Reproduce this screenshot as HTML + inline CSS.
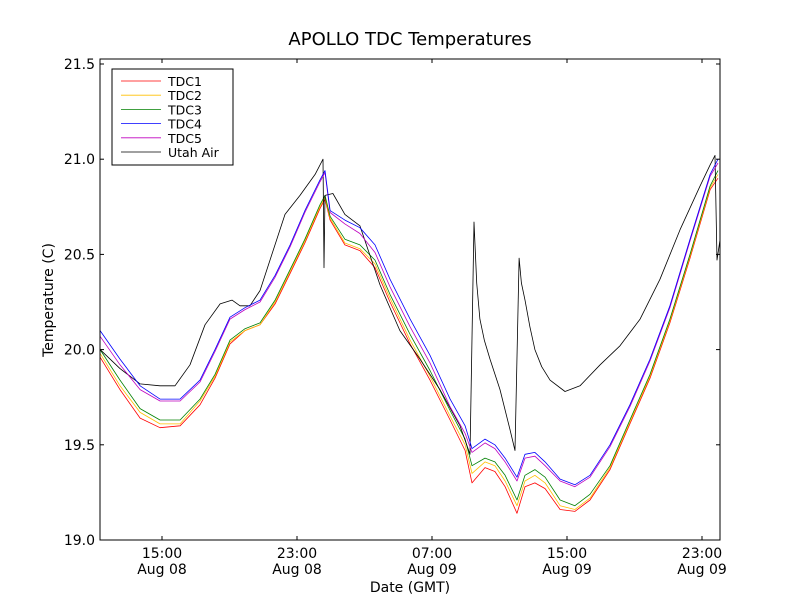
<!DOCTYPE html>
<html><head><meta charset="utf-8"><style>
body{margin:0;background:#fff;}
svg{font-family:"DejaVu Sans","Liberation Sans",sans-serif;}
</style></head><body>
<svg id="chart" width="800" height="600" xmlns="http://www.w3.org/2000/svg">
<rect width="800" height="600" fill="#fff"/>
<text x="410" y="45" font-size="18" text-anchor="middle">APOLLO TDC Temperatures</text>
<text x="410" y="592" font-size="14" text-anchor="middle">Date (GMT)</text>
<text transform="translate(53,300) rotate(-90)" font-size="14" text-anchor="middle">Temperature (C)</text>
<g id="plot"></g>
</svg>
<script>
const times=[11.33,12.51,13.70,14.88,16.07,17.25,18.14,19.03,19.92,20.81,21.70,22.59,23.47,24.36,24.66,24.96,25.84,26.73,27.62,28.51,29.70,30.88,32.07,32.96,33.37,34.14,34.73,35.33,36.04,36.51,37.10,37.70,38.59,39.47,40.36,41.55,42.73,43.92,45.10,46.29,47.48,47.95];
const tdc3=[20.00,19.84,19.69,19.63,19.63,19.74,19.87,20.05,20.11,20.14,20.26,20.42,20.58,20.76,20.81,20.70,20.58,20.55,20.47,20.29,20.08,19.89,19.68,19.53,19.39,19.43,19.41,19.34,19.21,19.34,19.37,19.33,19.21,19.18,19.24,19.39,19.63,19.87,20.16,20.50,20.86,20.94];
const tdc1=[19.96,19.79,19.64,19.59,19.60,19.71,19.85,20.03,20.10,20.13,20.24,20.40,20.56,20.74,20.79,20.68,20.55,20.52,20.43,20.25,20.03,19.84,19.63,19.47,19.30,19.38,19.36,19.28,19.14,19.28,19.30,19.27,19.16,19.15,19.21,19.37,19.61,19.85,20.14,20.48,20.84,20.90];
const tdc2=[19.98,19.81,19.67,19.61,19.61,19.73,19.86,20.04,20.10,20.13,20.25,20.41,20.57,20.75,20.80,20.69,20.56,20.53,20.45,20.27,20.05,19.86,19.65,19.50,19.35,19.41,19.39,19.31,19.18,19.31,19.34,19.30,19.18,19.16,19.22,19.38,19.62,19.86,20.15,20.49,20.85,20.92];
const tdc4=[20.10,19.95,19.81,19.74,19.74,19.84,20.00,20.17,20.22,20.26,20.39,20.55,20.73,20.89,20.94,20.73,20.68,20.64,20.55,20.37,20.16,19.97,19.74,19.60,19.48,19.53,19.50,19.43,19.33,19.45,19.46,19.41,19.32,19.29,19.34,19.50,19.71,19.95,20.23,20.58,20.92,21.00];
const tdc5=[20.07,19.92,19.79,19.73,19.73,19.83,19.99,20.16,20.21,20.25,20.38,20.54,20.72,20.88,20.93,20.72,20.66,20.61,20.51,20.33,20.12,19.93,19.70,19.56,19.46,19.51,19.48,19.41,19.31,19.43,19.44,19.39,19.31,19.28,19.33,19.49,19.70,19.94,20.22,20.57,20.91,20.98];
const airTimes=[11.33,12.51,13.70,14.88,15.77,16.66,17.55,18.44,19.15,19.62,20.21,20.81,21.40,22.29,23.18,24.07,24.54,24.60,24.66,25.13,25.84,26.73,27.92,29.10,30.29,31.47,32.66,33.25,33.49,33.65,33.84,34.10,34.44,35.03,35.62,35.92,36.16,36.30,36.51,36.80,37.10,37.50,37.99,38.88,39.77,40.96,42.14,43.33,44.51,45.70,46.89,47.48,47.77,47.89,48.07];
const air=[20.00,19.90,19.82,19.81,19.81,19.92,20.13,20.24,20.26,20.23,20.23,20.31,20.47,20.71,20.81,20.92,21.00,20.43,20.81,20.82,20.71,20.65,20.34,20.10,19.95,19.79,19.60,19.45,20.67,20.35,20.16,20.05,19.95,19.79,19.58,19.47,20.48,20.35,20.26,20.12,20.00,19.91,19.84,19.78,19.81,19.92,20.02,20.16,20.37,20.63,20.86,20.97,21.02,20.47,20.58];
const yTicks=[19.0,19.5,20.0,20.5,21.0,21.5];
const yTickLabels=["19.0","19.5","20.0","20.5","21.0","21.5"];
const xTicks=[15,23,31,39,47];
const xTickLabels=[["15:00","Aug 08"],["23:00","Aug 08"],["07:00","Aug 09"],["15:00","Aug 09"],["23:00","Aug 09"]];
const L=100,R=720,T=59,B=540;
const x=h=>162+(h-15)*16.875;
const y=v=>540-(v-19)*190.4;
const NS="http://www.w3.org/2000/svg";
const g=document.getElementById('plot');
function mk(tag,attrs,parent){const e=document.createElementNS(NS,tag);for(const k in attrs)e.setAttribute(k,attrs[k]);(parent||g).appendChild(e);return e;}
function series(ts,vs,color,name){
  const p=mk('polyline',{points:ts.map((t,i)=>x(t).toFixed(1)+','+y(vs[i]).toFixed(1)).join(' '),fill:'none',stroke:color,'stroke-width':0.8,'stroke-linejoin':'round'});
  
  
}
series(times,tdc1,'#ff0000','tdc1-line');
series(times,tdc2,'#ffbf00','tdc2-line');
series(times,tdc3,'#008000','tdc3-line');
series(airTimes,air,'#000000','utah-air-line');
series(times,tdc5,'#bf00bf','tdc5-line');
series(times,tdc4,'#0000ff','tdc4-line');
const frame=mk('rect',{x:L,y:T,width:R-L,height:B-T,fill:'none',stroke:'#000','stroke-width':1});


yTicks.forEach((v,i)=>{
  const yy=y(v);
  mk('line',{x1:L,x2:L+4,y1:yy,y2:yy,stroke:'#000'});
  mk('line',{x1:R,x2:R-4,y1:yy,y2:yy,stroke:'#000'});
  const t=mk('text',{x:L-5,y:yy+5,'font-size':14,'text-anchor':'end'});
  t.textContent=yTickLabels[i];
  
  
});
xTicks.forEach((h,i)=>{
  const xx=x(h);
  mk('line',{x1:xx,x2:xx,y1:B,y2:B-4,stroke:'#000'});
  mk('line',{x1:xx,x2:xx,y1:T,y2:T+4,stroke:'#000'});
  const t=mk('text',{x:xx,y:558,'font-size':14,'text-anchor':'middle'});
  t.textContent=xTickLabels[i][0];
  
  
  const t2=mk('text',{x:xx,y:574,'font-size':14,'text-anchor':'middle'});
  t2.textContent=xTickLabels[i][1];
  
  
});
const legNames=["TDC1","TDC2","TDC3","TDC4","TDC5","Utah Air"];
const legColors=['#ff0000','#ffbf00','#008000','#0000ff','#bf00bf','#000000'];
const lg=mk('g',{});


mk('rect',{x:112,y:69,width:121,height:96,fill:'#fff',stroke:'#000','stroke-width':1},lg);
legNames.forEach((n,i)=>{
  const yy=81+i*14.2;
  const e=mk('g',{},lg);
  
  
  mk('line',{x1:121,x2:161,y1:yy,y2:yy,stroke:legColors[i],'stroke-width':0.8},e);
  const t=mk('text',{x:168,y:yy+5,'font-size':12.5},e);
  t.textContent=n;
});
</script>
</body></html>
